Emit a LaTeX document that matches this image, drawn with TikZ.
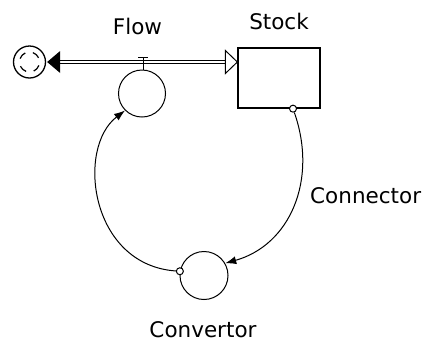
\documentclass[tikz,border=0pt]{standalone}
\usepackage{fontspec}
\setmainfont{DejaVu Sans}
\usepackage{tikz}
\usetikzlibrary{arrows.meta}

\tikzset{
    lbl/.style={font=\fontsize{21.5}{26}\selectfont, inner sep=0pt, anchor=base},
    conv/.style={draw, circle, line width=1pt, inner sep=0pt},
    dot/.style={draw, circle, line width=1pt, fill=white, inner sep=0pt, minimum size=7pt},
    link/.style={line width=1pt, -{Latex[length=11pt,width=8pt]}},
    pipe/.style={draw, double, double distance=2pt, line width=1pt}
}

\begin{document}
\begin{tikzpicture}[x=1pt, y=-1pt]
        \useasboundingbox (0,0) rectangle (428,349);

        % Source cloud and stock
        \node[draw, circle, line width=1.3pt, minimum size=32pt, inner sep=0pt] (cloud) at (29.5,62) {};
        \foreach \a in {20,110,200,290}
            \draw[line width=1.2pt] (cloud.center) ++(\a:10) arc[start angle=\a, end angle=\a+45, radius=10];
        \node[draw, rectangle, line width=1.3pt, minimum width=82pt, minimum height=60pt, inner sep=0pt] (stock) at (279,78) {};
        \node[lbl] (stocklbl) at (279,29) {Stock};
        \coordinate (inlet) at (stock.west |- cloud.east);

        % Flow pipe with valve
        \path[pipe] ([xshift=14pt]cloud.east) -- ([xshift=-12pt]inlet);
        \fill ([xshift=1pt]cloud.east) -- ++(13,-11) -- ++(0,22) -- cycle;
        \draw[line width=1pt, fill=white] (inlet) -- ++(-12,-11.5) -- ++(0,23) -- cycle;
        \node[conv, minimum size=47pt] (flow) at (142,93.5) {};
        \node[lbl] (flowlbl) at (137.5,34) {Flow};
        \coordinate (valve) at (143,57);
        \draw[line width=1pt] ([xshift=-5pt]valve) -- ([xshift=5pt]valve);
        \draw[line width=1pt] (valve) -- (flow.north -| valve);

        % Convertor and connectors
        \node[conv, minimum size=48pt] (convertor) at (204,275.5) {};
        \node[lbl] (convlbl) at (203,337) {Convertor};
        \node[lbl, anchor=base west] (connlbl) at (310,203) {Connector};
        \node[dot] (stockdot) at ([xshift=14pt]stock.south) {};
        \node[dot] (convdot) at (convertor.170) {};
        \draw[link] (stockdot) .. controls (318,180) and (290,245) .. (convertor.30);
        \draw[link] (convdot) .. controls (90,265) and (76,148) .. (flow.225);
    \end{tikzpicture}
\end{document}
